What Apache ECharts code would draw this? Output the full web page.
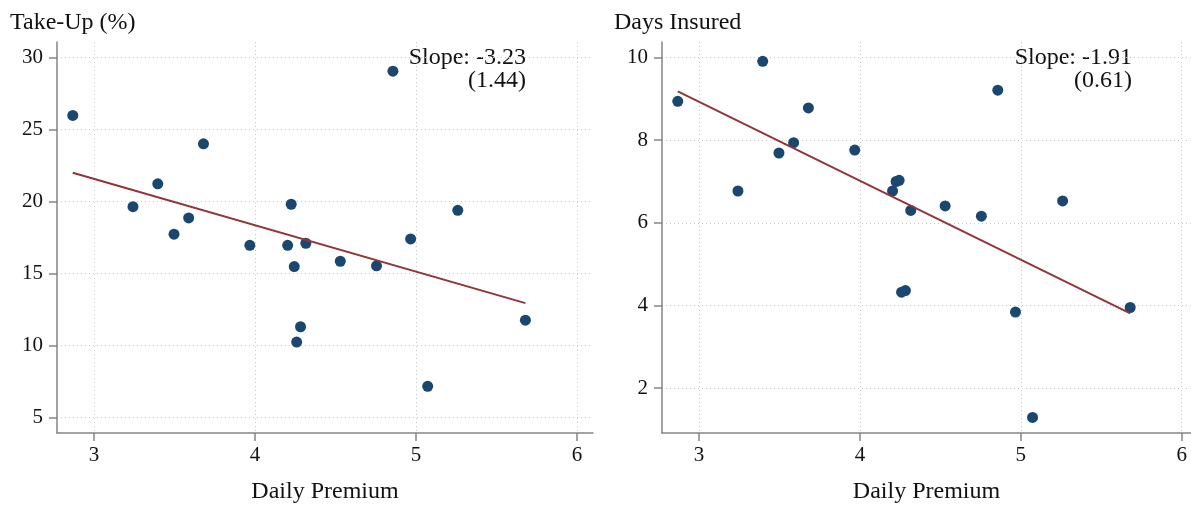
<!DOCTYPE html>
<html><head><meta charset="utf-8">
<script src="https://cdn.jsdelivr.net/npm/echarts@6/dist/echarts.min.js"></script>
<style>html,body{margin:0;padding:0;background:#fff}#c{width:1191px;height:505px}</style>
</head><body><div id="c"></div>
<script>
const premium = [2.868,3.242,3.396,3.497,3.588,3.680,3.968,4.203,4.225,4.316,4.244,4.283,4.259,4.530,4.755,4.857,4.967,5.073,5.260,5.680];
const takeUp = [25.98,19.64,21.23,17.73,18.86,24.01,16.96,16.96,19.81,17.10,15.48,11.30,10.24,15.85,15.53,29.05,17.40,7.16,19.39,11.76];
const daysInsured = [8.94,6.77,9.91,7.69,7.94,8.78,7.76,6.77,7.00,6.30,7.03,4.36,4.32,6.41,6.16,9.21,3.84,1.29,6.53,3.95];
const fitX = [2.868, 5.680];
const fitTakeUp = [22.0, 12.94];
const fitDays = [9.18, 3.81];
const xTicks = [3,4,5,6];
const takeUpTicks = [5,10,15,20,25,30];
const daysTicks = [2,4,6,8,10];
const panelTitles = ['Take-Up (%)','Days Insured'];
const xTitle = 'Daily Premium';
const slopeLines = [['Slope: -3.23', '(1.44)'], ['Slope: -1.91', '(0.61)']];

const FONT = '"Liberation Serif", "DejaVu Serif", serif';
const DOT = '#1a476f', LINE = '#90353b', AX = '#858585', GRIDC = '#c8c8c8';

function xAxis(gi, max) {
  return {
    type:'value', gridIndex:gi, min:2.77, max:max,
    name:xTitle, nameLocation:'middle', nameGap:47,
    nameTextStyle:{fontFamily:FONT, fontSize:24, color:'#111'},
    axisLine:{show:true, onZero:false, lineStyle:{color:AX, width:1.5}},
    axisTick:{show:true, length:8, lineStyle:{color:AX, width:1.5}, customValues:xTicks},
    axisLabel:{fontFamily:FONT, fontSize:21, color:'#111', margin:12, customValues:xTicks},
    splitLine:{show:true, lineStyle:{color:GRIDC, type:[1,3], width:1}}
  };
}
function yAxis(gi, min, max, ticks) {
  return {
    type:'value', gridIndex:gi, min:min, max:max,
    axisLine:{show:true, onZero:false, lineStyle:{color:AX, width:1.5}},
    axisTick:{show:true, length:8, lineStyle:{color:AX, width:1.5}, customValues:ticks},
    axisLabel:{fontFamily:FONT, fontSize:21, color:'#111', margin:14, customValues:ticks},
    splitLine:{show:true, lineStyle:{color:GRIDC, type:[1,3], width:1}}
  };
}
function txt(pos, text, size) {
  return Object.assign({type:'text', style:{text:text, font:size+'px '+FONT, fill:'#111', align: pos.right != null ? 'right' : 'left'}}, pos);
}

const chart = echarts.init(document.getElementById('c'), null, {renderer:'canvas'});
chart.setOption({
  animation:false,
  backgroundColor:'#fff',
  grid:[
    {left:57, right:598, top:42, bottom:72, outerBoundsMode:'none'},
    {left:662, right:0, top:42, bottom:72, outerBoundsMode:'none'}
  ],
  xAxis:[xAxis(0, 6.10), xAxis(1, 6.058)],
  yAxis:[yAxis(0, 3.92, 31.08, takeUpTicks), yAxis(1, 0.912, 10.377, daysTicks)],
  graphic:[
    txt({left:10, top:11}, panelTitles[0], 24),
    txt({left:614, top:11}, panelTitles[1], 24),
    txt({right:665, top:46}, slopeLines[0][0], 24),
    txt({right:665, top:69}, slopeLines[0][1], 24),
    txt({right:59, top:46}, slopeLines[1][0], 24),
    txt({right:59, top:69}, slopeLines[1][1], 24)
  ],
  series:[
    {type:'scatter', xAxisIndex:0, yAxisIndex:0, symbolSize:11, itemStyle:{color:DOT, opacity:1},
     data:premium.map((x,i)=>[x, takeUp[i]]), z:3},
    {type:'line', xAxisIndex:0, yAxisIndex:0, symbol:'none', lineStyle:{color:LINE, width:2},
     data:fitX.map((x,i)=>[x, fitTakeUp[i]]), z:4},
    {type:'scatter', xAxisIndex:1, yAxisIndex:1, symbolSize:11, itemStyle:{color:DOT, opacity:1},
     data:premium.map((x,i)=>[x, daysInsured[i]]), z:3},
    {type:'line', xAxisIndex:1, yAxisIndex:1, symbol:'none', lineStyle:{color:LINE, width:2},
     data:fitX.map((x,i)=>[x, fitDays[i]]), z:4}
  ]
});
</script></body></html>
